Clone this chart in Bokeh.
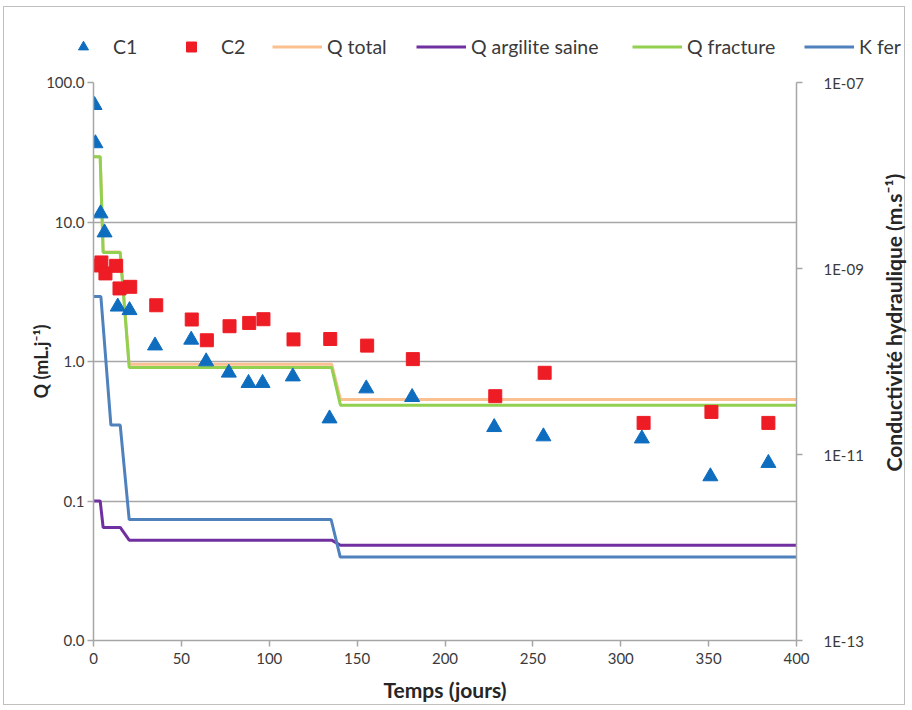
from bokeh.plotting import figure
from bokeh.models import (Range1d, LogScale, LogAxis, FixedTicker, CustomJSTickFormatter,
                          Legend, LegendItem, Title)
from bokeh.embed import file_html
from bokeh.resources import INLINE

# ---------------- data ----------------
c1_t = [0.6, 1.1, 4.0, 6.3, 13.8, 20.5, 35.0, 55.6, 64.1, 77.0, 88.2, 96.2, 113.4, 134.3,
        155.2, 181.3, 228.0, 256.0, 312.0, 351.0, 384.0]
c1_q = [68.8, 36.6, 11.5, 8.4, 2.47, 2.33, 1.30, 1.43, 1.00, 0.83, 0.70, 0.70, 0.78, 0.39,
        0.64, 0.555, 0.338, 0.29, 0.28, 0.15, 0.187]

c2_t = [1.5, 4.5, 6.8, 12.9, 14.8, 20.9, 35.7, 55.9, 64.5, 77.4, 88.6, 96.7, 113.8, 134.7,
        155.7, 181.7, 228.6, 256.7, 313.0, 351.6, 384.0]
c2_q = [4.88, 5.13, 4.28, 4.85, 3.34, 3.43, 2.53, 2.00, 1.42, 1.79, 1.89, 2.01, 1.44, 1.45,
        1.30, 1.04, 0.564, 0.83, 0.363, 0.435, 0.363]

q_t = [0, 3.8, 5.5, 15.2, 20.3, 135.5, 140.5, 400]
q_total = [29.4, 29.4, 6.1, 6.1, 0.957, 0.957, 0.535, 0.535]
q_argilite = [0.1, 0.1, 0.0646, 0.0646, 0.0524, 0.0524, 0.0482, 0.0482]
q_fracture = [29.3, 29.3, 6.04, 6.04, 0.906, 0.906, 0.486, 0.486]

k_t = [0, 4.2, 9.9, 15.2, 20.3, 135.2, 140.4, 400]
k_fer = [5.0e-10, 5.0e-10, 2.07e-11, 2.07e-11, 2.0e-12, 2.0e-12, 7.9e-13, 7.9e-13]

q_ticks = [0.01, 0.1, 1, 10, 100]
k_ticks = [1e-13, 1e-11, 1e-9, 1e-7]
x_ticks = [0, 50, 100, 150, 200, 250, 300, 350, 400]

series_labels = ["C1", "C2", "Q total", "Q argilite saine", "Q fracture", "K fer"]
x_title = "Temps (jours)"
q_title = "Q (mL.j\u207b\u00b9)"
k_title = "Conductivit\u00e9 hydraulique (m.s\u207b\u00b9)"

FONT = "Lato"
GRAY = "#A6A6A6"
TXT = "#3A3A3A"
TITLE_C = "#262626"
BORDER = "1px solid #BFBFBF"
C_QT, C_QA, C_QF, C_K = "#FAC090", "#7030A0", "#92D050", "#4F81BD"
C_C1, C_C2 = "#0E6DBF", "#EE1C25"

W = 902
LEG_H = 60

# ---------------- legend strip (its own root, data kept outside its view) ----------------
lg = figure(width=W, height=LEG_H, output_backend="svg", toolbar_location=None,
            x_range=Range1d(1000, 1001), y_range=Range1d(1000, 1001),
            min_border_left=0, min_border_right=0, min_border_top=0, min_border_bottom=0)
lg.axis.visible = False
lg.grid.visible = False
lg.outline_line_color = None
lg.styles = {"margin-left": "3px", "margin-top": "6px", "border-top": BORDER,
             "border-left": BORDER, "border-right": BORDER}

lr_c1 = lg.scatter(c1_t, c1_q, marker="triangle", fill_color=C_C1, line_color=C_C1)
lr_c2 = lg.scatter(c2_t, c2_q, marker="square", fill_color=C_C2, line_color=C_C2)
lr_qt = lg.line(q_t, q_total, line_color=C_QT, line_width=3)
lr_qa = lg.line(q_t, q_argilite, line_color=C_QA, line_width=3)
lr_qf = lg.line(q_t, q_fracture, line_color=C_QF, line_width=3)
lr_k = lg.line(k_t, k_fer, line_color=C_K, line_width=3)
leg_renderers = [lr_c1, lr_c2, lr_qt, lr_qa, lr_qf, lr_k]
leg_x = [54, 162, 268, 412, 628, 800]

for lab, r, vx in zip(series_labels, leg_renderers, leg_x):
    leg = Legend(items=[LegendItem(label=lab, renderers=[r])], location=(vx, 8),
                 orientation="horizontal", glyph_width=50, glyph_height=25,
                 label_height=25, label_standoff=5, padding=0, margin=0,
                 border_line_alpha=0, background_fill_alpha=0,
                 label_text_font=FONT, label_text_font_size="19.5px",
                 label_text_color=TXT)
    lg.add_layout(leg, "center")

# ---------------- main figure ----------------
p = figure(width=W, height=639, output_backend="svg", toolbar_location=None,
           x_range=Range1d(0, 400), y_range=Range1d(0.01, 100), y_axis_type="log",
           min_border_left=89, min_border_right=110, min_border_top=16,
           min_border_bottom=65)
p.styles = {"margin-left": "3px", "border-bottom": BORDER,
            "border-left": BORDER, "border-right": BORDER}
p.extra_y_ranges = {"k": Range1d(1e-13, 1e-7)}
p.extra_y_scales = {"k": LogScale()}
p.outline_line_color = None

p.xgrid.visible = False
p.ygrid.ticker = FixedTicker(ticks=q_ticks)
p.ygrid.grid_line_color = GRAY
p.ygrid.grid_line_width = 1.5

xa = p.xaxis[0]
xa.ticker = FixedTicker(ticks=x_ticks)
xa.axis_label = x_title

ya = p.yaxis[0]
ya.ticker = FixedTicker(ticks=q_ticks)
ya.formatter = CustomJSTickFormatter(code="return tick.toFixed(1);")
ya.axis_label = q_title

ra = LogAxis(y_range_name="k", ticker=FixedTicker(ticks=k_ticks),
             formatter=CustomJSTickFormatter(
                 code="return '1E-' + String(Math.round(-Math.log10(tick))).padStart(2, '0');"))
p.add_layout(ra, "right")

for ax in [xa, ya, ra]:
    ax.axis_line_color = GRAY
    ax.axis_line_width = 1.5
    ax.major_tick_line_color = GRAY
    ax.major_tick_line_width = 1.5
    ax.major_tick_in = 0
    ax.major_tick_out = 6
    ax.minor_tick_line_color = None
    ax.major_label_text_font = FONT
    ax.major_label_text_font_size = "15px"
    ax.major_label_text_color = TXT
    ax.axis_label_text_font = FONT
    ax.axis_label_text_font_size = "21px"
    ax.axis_label_text_font_style = "bold"
    ax.axis_label_text_color = TITLE_C

ya.axis_label_text_font_size = "18px"
xa.major_label_standoff = 6
xa.axis_label_standoff = 10
ya.major_label_standoff = 3
ya.axis_label_standoff = -9
ra.major_label_standoff = 21

p.line(q_t, q_total, line_color=C_QT, line_width=3)
p.line(q_t, q_argilite, line_color=C_QA, line_width=3)
p.line(q_t, q_fracture, line_color=C_QF, line_width=3)
p.line(k_t, k_fer, line_color=C_K, line_width=3, y_range_name="k")
p.scatter(c2_t, c2_q, marker="square", size=13, fill_color=C_C2, line_color=C_C2)
p.scatter(c1_t, c1_q, marker="triangle", size=15, fill_color=C_C1, line_color=C_C1)

# ---------------- right-hand axis title (reads bottom to top, like the reference) ----------------
t = figure(width=40, height=444, output_backend="svg", toolbar_location=None,
           x_range=Range1d(0, 1), y_range=Range1d(0, 1),
           min_border_left=0, min_border_right=0, min_border_top=0, min_border_bottom=0)
t.axis.visible = False
t.grid.visible = False
t.outline_line_color = None
t.background_fill_alpha = 0
t.border_fill_alpha = 0
t.add_layout(Title(text=k_title, align="center", text_font=FONT, text_font_size="21px",
                   text_font_style="bold", text_color=TITLE_C, standoff=0), "left")
t.styles = {"position": "absolute", "left": "878px", "top": "100px"}

open("out.html", "w").write(file_html([lg, p, t], INLINE))
